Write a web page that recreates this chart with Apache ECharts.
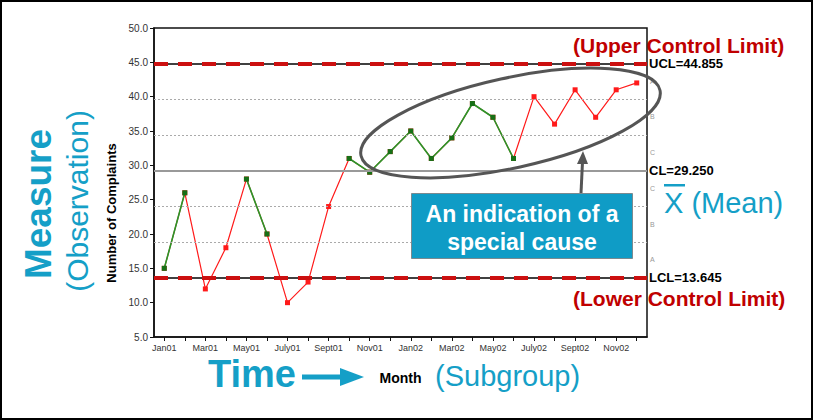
<!DOCTYPE html>
<html><head><meta charset="utf-8">
<script src="https://cdn.jsdelivr.net/npm/echarts@6/dist/echarts.min.js"></script>
<style>html,body{margin:0;padding:0;background:#fff}#c{width:813px;height:420px}</style>
</head><body><div id="c"></div>
<script>
// ---- data ----
const months = ['Jan01','Feb01','Mar01','Apr01','May01','Jun01','July01','Aug01','Sept01','Oct01','Nov01','Dec01',
                'Jan02','Feb02','Mar02','Apr02','May02','Jun02','July02','Aug02','Sept02','Oct02','Nov02','Dec02'];
const complaints = [15,26,12,18,28,20,10,13,24,31,29,32,35,31,34,39,37,31,40,36,41,37,41,42];
const pointGroup = ['G','G','R','R','G','G','R','R','R','G','G','G','G','G','G','G','G','G','R','R','R','R','R','R'];
const ucl = 44.855, cl = 29.25, lcl = 13.645;
const zoneLines = [18.85, 24.05, 34.45, 39.65];
const zoneLow = [39.65, 34.45, 29.25, 24.05, 18.85, 13.645];
const zoneHigh = [44.855, 39.65, 34.45, 29.25, 24.05, 18.85];
const zoneNames = ['A','B','C','C','B','A'];
const yTicks = {min: 5, max: 50, step: 5};

const FONT = '"Liberation Sans", Arial, sans-serif';
const CYAN = '#159fc7';
const DARKRED = '#c00000';

const chart = echarts.init(document.getElementById('c'), null, {renderer: 'svg'});

const greenData = complaints.map((v, i) => pointGroup[i] === 'G' ? v : null);

const markLineData = [];
zoneLines.forEach(v => markLineData.push({yAxis: v, lineStyle: {color: '#aaaaaa', width: 1, type: [2, 2]}, label: {show: false}}));
markLineData.push({yAxis: cl, lineStyle: {color: '#999999', width: 2, type: 'solid'},
  label: {show: true, formatter: 'CL=' + cl.toFixed(3)}});
[ucl, lcl].forEach((v, k) => {
  markLineData.push({yAxis: v, lineStyle: {color: '#000', width: 1.5, type: 'solid'}, label: {show: false}});
  markLineData.push({yAxis: v, lineStyle: {color: '#cc1010', width: 4, type: [14, 10]},
    label: {show: true, formatter: (k === 0 ? 'UCL=' : 'LCL=') + v.toFixed(3)}});
});

const markAreaData = zoneNames.map((n, i) => [
  {yAxis: zoneLow[i], name: n, itemStyle: {color: 'rgba(0,0,0,0)'}},
  {yAxis: zoneHigh[i]}
]);

const option = {
  animation: false,
  textStyle: {fontFamily: FONT},
  grid: {left: 154, right: 166, top: 28, bottom: 83, show: true, borderColor: '#111', borderWidth: 1.5, backgroundColor: 'rgba(0,0,0,0)'},
  xAxis: {
    type: 'category', data: months, boundaryGap: true,
    axisLine: {show: true, lineStyle: {color: '#111', width: 1.5}},
    axisTick: {show: true, interval: 0, alignWithLabel: true, length: 4, lineStyle: {color: '#111'}},
    axisLabel: {interval: 1, fontSize: 9, color: '#333', margin: 6, fontFamily: FONT},
    splitLine: {show: false},
    name: 'Month', nameLocation: 'middle', nameGap: 34,
    nameTextStyle: {fontWeight: 'bold', fontSize: 14, color: '#000', fontFamily: FONT}
  },
  yAxis: {
    type: 'value', min: yTicks.min, max: yTicks.max, interval: yTicks.step,
    axisLine: {show: true, lineStyle: {color: '#111', width: 1.5}},
    axisTick: {show: true, length: 4, lineStyle: {color: '#111'}},
    axisLabel: {fontSize: 10, color: '#333', margin: 6, formatter: v => v.toFixed(1), fontFamily: FONT},
    splitLine: {show: false}
  },
  series: [
    {
      type: 'line', data: [], z: 1, silent: true,
      markArea: {silent: true, data: markAreaData,
        label: {show: true, position: 'right', distance: 3, fontSize: 7, color: '#999', fontFamily: FONT}},
      markLine: {silent: true, symbol: 'none', data: markLineData,
        label: {position: 'end', distance: 2, fontSize: 13, fontWeight: 'bold', color: '#000', fontFamily: FONT}}
    },
    {
      type: 'line', data: complaints, z: 3, symbol: 'rect', symbolSize: 5,
      lineStyle: {color: '#ff1a1a', width: 1.2}, itemStyle: {color: '#ff1a1a'}
    },
    {
      type: 'line', data: greenData, z: 4, symbol: 'rect', symbolSize: 5, connectNulls: false,
      lineStyle: {color: '#2a962a', width: 1.6}, itemStyle: {color: '#167016'}
    }
  ],
  graphic: [
    {type: 'rect', z: 200, shape: {x: 1, y: 1, width: 811, height: 418}, style: {fill: 'rgba(0,0,0,0)', stroke: '#000', lineWidth: 2}},
    {type: 'ellipse', z: 100, x: 510.5, y: 123, rotation: 0.216, shape: {cx: 0, cy: 0, rx: 153, ry: 45},
      style: {fill: 'rgba(0,0,0,0)', stroke: '#555', lineWidth: 3}},
    {type: 'line', z: 100, shape: {x1: 581, y1: 193, x2: 582.5, y2: 162}, style: {stroke: '#555', lineWidth: 3}},
    {type: 'polygon', z: 100, shape: {points: [[577, 164], [583, 151], [588, 164]]}, style: {fill: '#555'}},
    {type: 'rect', z: 100, shape: {x: 411.5, y: 193.5, width: 221, height: 65}, style: {fill: '#0f9cc6', stroke: '#7a8a90', lineWidth: 1}},
    {type: 'text', z: 101, x: 522, y: 214, style: {text: 'An indication of a', fill: '#fff', fontSize: 23, fontWeight: 'bold', fontFamily: FONT, align: 'center', verticalAlign: 'middle'}},
    {type: 'text', z: 101, x: 522, y: 242, style: {text: 'special cause', fill: '#fff', fontSize: 23, fontWeight: 'bold', fontFamily: FONT, align: 'center', verticalAlign: 'middle'}},
    {type: 'text', z: 101, x: 573, y: 45, style: {text: '(Upper Control Limit)', fill: DARKRED, fontSize: 21, fontWeight: 'bold', fontFamily: FONT, align: 'left', verticalAlign: 'middle'}},
    {type: 'text', z: 101, x: 573, y: 298, style: {text: '(Lower Control Limit)', fill: DARKRED, fontSize: 21, fontWeight: 'bold', fontFamily: FONT, align: 'left', verticalAlign: 'middle'}},
    {type: 'text', z: 101, x: 664, y: 203, style: {text: 'X (Mean)', fill: CYAN, fontSize: 29, fontFamily: FONT, align: 'left', verticalAlign: 'middle'}},
    {type: 'rect', z: 101, shape: {x: 664, y: 184, width: 21, height: 2.5}, style: {fill: CYAN}},
    {type: 'text', z: 101, x: 38, y: 204, rotation: Math.PI / 2, style: {text: 'Measure', fill: CYAN, fontSize: 37, fontWeight: 'bold', fontFamily: FONT, align: 'center', verticalAlign: 'middle'}},
    {type: 'text', z: 101, x: 77, y: 201, rotation: Math.PI / 2, style: {text: '(Observation)', fill: CYAN, fontSize: 30, fontFamily: FONT, align: 'center', verticalAlign: 'middle'}},
    {type: 'text', z: 101, x: 111, y: 213, rotation: Math.PI / 2, style: {text: 'Number of Complaints', fill: '#000', fontSize: 13, fontWeight: 'bold', fontFamily: FONT, align: 'center', verticalAlign: 'middle'}},
    {type: 'text', z: 101, x: 208, y: 374, style: {text: 'Time', fill: CYAN, fontSize: 38, fontWeight: 'bold', fontFamily: FONT, align: 'left', verticalAlign: 'middle'}},
    {type: 'rect', z: 101, shape: {x: 302, y: 374.5, width: 42, height: 5}, style: {fill: CYAN}},
    {type: 'polygon', z: 101, shape: {points: [[340, 368], [364, 377], [340, 386]]}, style: {fill: CYAN}},
    {type: 'text', z: 101, x: 435, y: 376, style: {text: '(Subgroup)', fill: CYAN, fontSize: 29, fontFamily: FONT, align: 'left', verticalAlign: 'middle'}}
  ]
};
chart.setOption(option);
</script>
</body></html>
